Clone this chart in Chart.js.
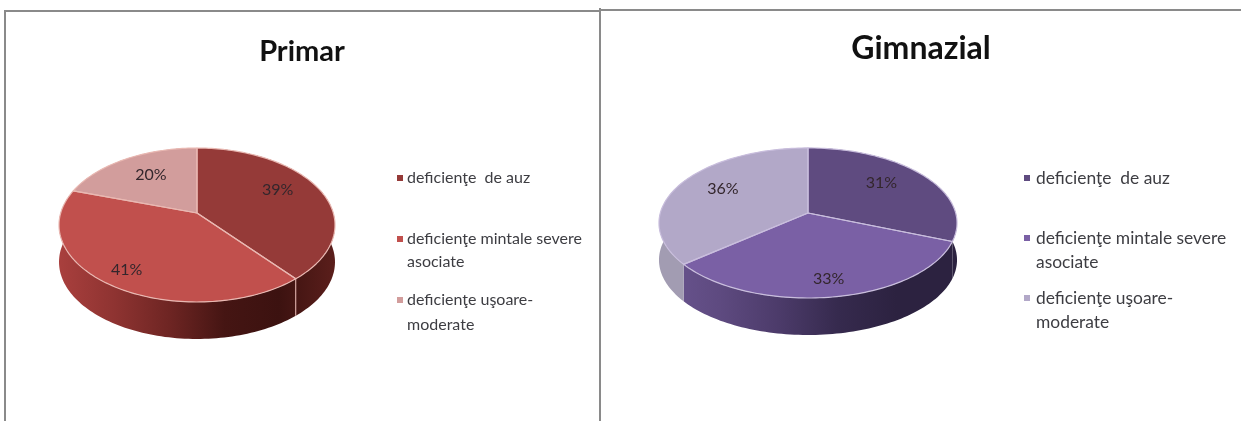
<!DOCTYPE html>
<html><head><meta charset="utf-8">
<script src="https://cdn.jsdelivr.net/npm/chart.js@4"></script>
<style>
html,body{margin:0;padding:0;background:#fff;width:1241px;height:421px;overflow:hidden}
.w{position:absolute;top:0;height:421px}
canvas{filter:blur(.75px)}
.l{position:absolute;background:#8a8a8a}
</style></head><body>
<div class="w" style="left:0;width:604px"><canvas id="c1"></canvas></div>
<div class="w" style="left:601px;width:640px"><canvas id="c2"></canvas></div>
<div class="l" style="left:4px;top:10px;width:2px;height:411px"></div>
<div class="l" style="left:5px;top:10px;width:595px;height:2px"></div>
<div class="l" style="left:599px;top:8px;width:2px;height:413px"></div>
<div class="l" style="left:601px;top:9px;width:640px;height:2px"></div>
<script>
const categories = ['deficienţe  de auz', 'deficienţe mintale severe asociate', 'deficienţe uşoare-moderate'];
const primarValues = [39, 41, 20];
const gimnazialValues = [31, 33, 36];
const primarColors = ['#953A38', '#C1504D', '#D29D9C'];
const gimnazialColors = ['#5F4B80', '#7A60A5', '#B2A8C8'];

const pie3d = {
  id: 'pie3d',
  beforeDatasetsDraw(chart, args, o) {
    const ctx = chart.ctx, arcs = chart.getDatasetMeta(0).data;
    const P = (a, r = 1, dy = 0) => {
      const u = Math.cos(a) * r, v = Math.sin(a) * r, w = 1 - o.k * v;
      return [o.cx + o.B * u / w, o.apex + o.A * v / w + dy];
    };
    const trace = (s, e, r, dy) => {
      const n = Math.max(8, Math.ceil((e - s) * 40));
      const pts = [];
      for (let i = 0; i <= n; i++) pts.push(P(s + (e - s) * i / n, r, dy));
      return pts;
    };
    ctx.save();
    ctx.lineJoin = 'round';
    // side wall
    arcs.forEach((arc, i) => {
      const top = trace(arc.startAngle, arc.endAngle, 1, 0);
      const bot = trace(arc.startAngle, arc.endAngle, 1, o.depth);
      ctx.beginPath();
      top.forEach((p, j) => j ? ctx.lineTo(p[0], p[1]) : ctx.moveTo(p[0], p[1]));
      bot.reverse().forEach(p => ctx.lineTo(p[0], p[1]));
      ctx.closePath();
      const g = ctx.createLinearGradient(o.cx - o.B, 0, o.cx + o.B, 0);
      o.side[i].forEach((c, j, a) => g.addColorStop(j / (a.length - 1), c));
      ctx.fillStyle = g; ctx.fill();
    });
    // seam on the front wall
    arcs.forEach(arc => {
      const a = arc.startAngle, t = P(a), b = P(a, 1, o.depth);
      if (Math.sin(a) > 0.2 && o.seam) {
        ctx.beginPath(); ctx.moveTo(t[0], t[1]); ctx.lineTo(b[0], b[1]);
        ctx.strokeStyle = o.rim; ctx.lineWidth = 1; ctx.stroke();
      }
    });
    // top face
    arcs.forEach((arc, i) => {
      const pts = trace(arc.startAngle, arc.endAngle, 1, 0);
      const c = P(0, 0);
      ctx.beginPath(); ctx.moveTo(c[0], c[1]);
      pts.forEach(p => ctx.lineTo(p[0], p[1]));
      ctx.closePath();
      ctx.fillStyle = arc.options.backgroundColor; ctx.fill();
    });
    arcs.forEach(arc => {
      const pts = trace(arc.startAngle, arc.endAngle, 1, 0);
      const c = P(0, 0);
      ctx.beginPath(); ctx.moveTo(c[0], c[1]);
      pts.forEach(p => ctx.lineTo(p[0], p[1]));
      ctx.closePath();
      ctx.strokeStyle = o.rim; ctx.lineWidth = 1.2; ctx.stroke();
    });
    // percent labels
    ctx.font = o.labelFont; ctx.textAlign = 'center'; ctx.textBaseline = 'middle';
    ctx.fillStyle = '#33262c';
    arcs.forEach((arc, i) => {
      const p = P((arc.startAngle + arc.endAngle) / 2, o.labelR[i]);
      ctx.fillText(o.values[i] + '%', p[0], p[1] + o.labelDy[i]);
    });
    // legend
    let row = 0;
    ctx.textAlign = 'left';
    ctx.font = o.legendFont;
    categories.forEach((t, i) => {
      const lines = [''];
      t.split(/(?<=[ -])(?=[^ ])/).forEach(part => {
        const cur = lines[lines.length - 1];
        if (ctx.measureText(cur + part).width > o.legendWidth && cur) lines.push(part);
        else lines[lines.length - 1] = cur + part;
      });
      ctx.fillStyle = arcs[i].options.backgroundColor;
      ctx.fillRect(o.lx, o.ly[row] - 3, 6, 6);
      ctx.fillStyle = '#3d3d42';
      lines.forEach(l => { ctx.fillText(l.trim(), o.lx + o.lgap, o.ly[row]); row++; });
    });
    ctx.restore();
    return false;
  }
};

function make(id, title, values, colors, titleSize, titlePad, opts) {
  new Chart(document.getElementById(id), {
    type: 'pie',
    data: { labels: categories, datasets: [{ data: values, backgroundColor: colors, borderWidth: 0 }] },
    options: {
      responsive: true, maintainAspectRatio: false, animation: false,
      layout: { padding: 0 },
      plugins: {
        legend: { display: false }, tooltip: { enabled: false },
        title: { display: true, text: title, color: '#111', font: { family: 'Lato', size: titleSize, weight: 'bold' }, padding: { top: titlePad, bottom: 0 } },
        pie3d: Object.assign({ values }, opts)
      }
    },
    plugins: [pie3d]
  });
}
make('c1', 'Primar', primarValues, primarColors, 29, 34, {
  cx: 197, apex: 213, A: 75.1, B: 136.3, k: 0.156, depth: 37, rim: '#E9B8B2', seam: true,
  side: [['#A83F3D', '#8E3331', '#6E2523', '#451513', '#3C1210', '#5A1E1B'],
         ['#A83F3D', '#8E3331', '#6E2523', '#451513', '#3C1210', '#5A1E1B'],
         ['#A07070', '#A07070']],
  labelR: [0.65, 0.82, 0.62], labelDy: [-7, 0, -3],
  labelFont: '16px Lato', legendFont: '16px Lato', legendWidth: 185, lgap: 10,
  lx: 397, ly: [178, 239, 262, 300, 325]
});
make('c2', 'Gimnazial', gimnazialValues, gimnazialColors, 32, 29, {
  cx: 207, apex: 213, A: 73.7, B: 147.7, k: 0.133, depth: 37, rim: '#C9BEDD', seam: false,
  side: [['#6A5590', '#5E4A80', '#4C3B6A', '#362A4E', '#2C2240', '#2C2240'],
         ['#6A5590', '#5E4A80', '#4C3B6A', '#362A4E', '#2C2240', '#2C2240'],
         ['#A29CB2', '#A29CB2']],
  labelR: [0.63, 0.8, 0.66], labelDy: [-5, 1, -4],
  labelFont: '16px Lato', legendFont: '17.4px Lato', legendWidth: 200, lgap: 12,
  lx: 423, ly: [178, 238, 262, 298, 322]
});
</script>
</body></html>
